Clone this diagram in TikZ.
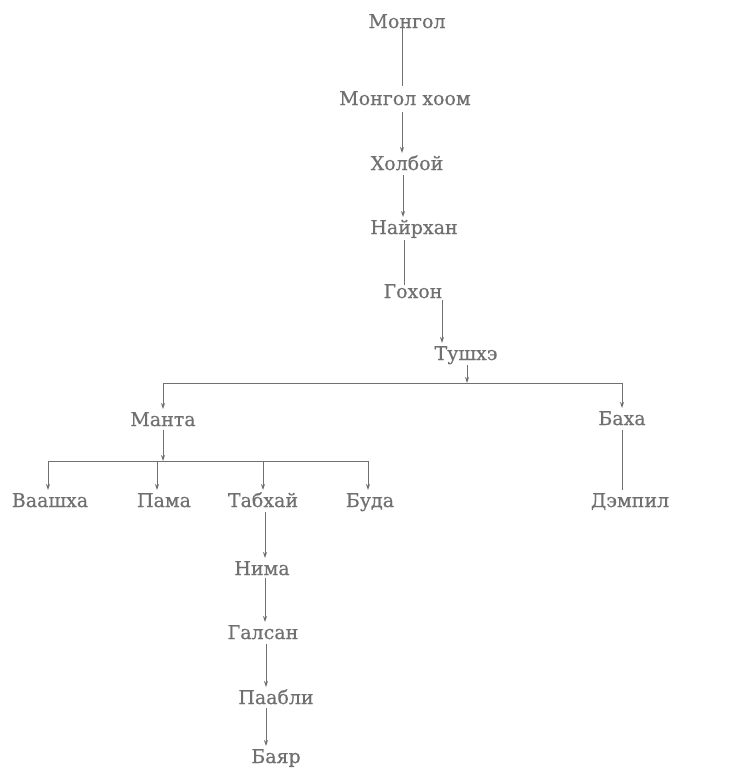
\documentclass[tikz,border=0pt]{standalone}
\usepackage{fontspec}
\newfontfamily\tw{DejaVu Serif}[FakeBold=0.6]
\usetikzlibrary{arrows.meta}
\definecolor{ink}{RGB}{112,112,112}
\tikzset{
  nm/.style={inner sep=0pt, text height=14pt, text depth=0pt, font=\tw\fontsize{19}{19}\selectfont, text=ink},
  ln/.style={draw=ink, line width=0.9pt},
  arr/.style={ln, -{Stealth[length=6pt,width=4pt]}}
}
\begin{document}
\begin{tikzpicture}[x=1pt,y=-1pt]
\useasboundingbox (0,0) rectangle (751,769);
\node[nm] (mongol) at (407,21) {Монгол};
\node[nm] (hoom) at (405,98) {Монгол хоом};
\node[nm] (holboi) at (407,163) {Холбой};
\node[nm] (nair) at (414,227) {Найрхан};
\node[nm] (gohon) at (413,291) {Гохон};
\node[nm] (tush) at (466,353) {Тушхэ};
\node[nm] (manta) at (163,419) {Манта};
\node[nm] (baha) at (622,418) {Баха};
\node[nm] (dempil) at (630,500) {Дэмпил};
\node[nm] (vaash) at (50,500) {Ваашха};
\node[nm] (pama) at (164,500) {Пама};
\node[nm] (tabhai) at (263,500) {Табхай};
\node[nm] (buda) at (370,500) {Буда};
\node[nm] (nima) at (262,568) {Нима};
\node[nm] (galsan) at (263,632) {Галсан};
\node[nm] (paabli) at (276,697) {Паабли};
\node[nm] (bayar) at (276,756) {Баяр};
\coordinate (j1) at (467,383);
\coordinate (jl) at (163,383);
\coordinate (jr) at (622,383);
\coordinate (j2) at (163,461);
\coordinate (j2l) at (48,461);
\coordinate (j2b) at (157,461);
\coordinate (j2c) at (263,461);
\coordinate (j2r) at (368,461);
% chain
\draw[ln] ([shift={(-5pt,-7pt)}]mongol.center) -- ([shift={(-3pt,12pt)}]hoom.center);
\draw[arr] ([shift={(-3pt,-14pt)}]hoom.center) -- ([shift={(-5pt,10pt)}]holboi.center);
\draw[arr] ([shift={(-4pt,-12pt)}]holboi.center) -- ([shift={(-11pt,10pt)}]nair.center);
\draw[ln] ([shift={(-10pt,-13pt)}]nair.center) -- ([shift={(-9pt,6pt)}]gohon.center);
\draw[arr] ([shift={(29pt,-9pt)}]gohon.center) -- ([shift={(-24pt,10pt)}]tush.center);
\draw[arr] ([shift={(1pt,-12pt)}]tush.center) -- (j1);
\draw[ln] (jl) -- (jr);
\draw[arr] (jl) -- ([shift={(0pt,10pt)}]manta.center);
\draw[arr] (jr) -- ([shift={(0pt,10pt)}]baha.center);
\draw[ln] ([shift={(0pt,-12pt)}]baha.center) -- ([shift={(-8pt,10pt)}]dempil.center);
\draw[arr] ([shift={(0pt,-11pt)}]manta.center) -- (j2);
\draw[ln] (j2l) -- (j2r);
\draw[arr] (j2l) -- ([shift={(-2pt,10pt)}]vaash.center);
\draw[arr] (j2b) -- ([shift={(-7pt,10pt)}]pama.center);
\draw[arr] (j2c) -- ([shift={(0pt,10pt)}]tabhai.center);
\draw[arr] (j2r) -- ([shift={(-2pt,10pt)}]buda.center);
\draw[arr] ([shift={(2pt,-12pt)}]tabhai.center) -- ([shift={(3pt,10pt)}]nima.center);
\draw[arr] ([shift={(3pt,-10pt)}]nima.center) -- ([shift={(2pt,10pt)}]galsan.center);
\draw[arr] ([shift={(3pt,-12pt)}]galsan.center) -- ([shift={(-10pt,10pt)}]paabli.center);
\draw[arr] ([shift={(-10pt,-11pt)}]paabli.center) -- ([shift={(-10pt,10pt)}]bayar.center);
\end{tikzpicture}
\end{document}
